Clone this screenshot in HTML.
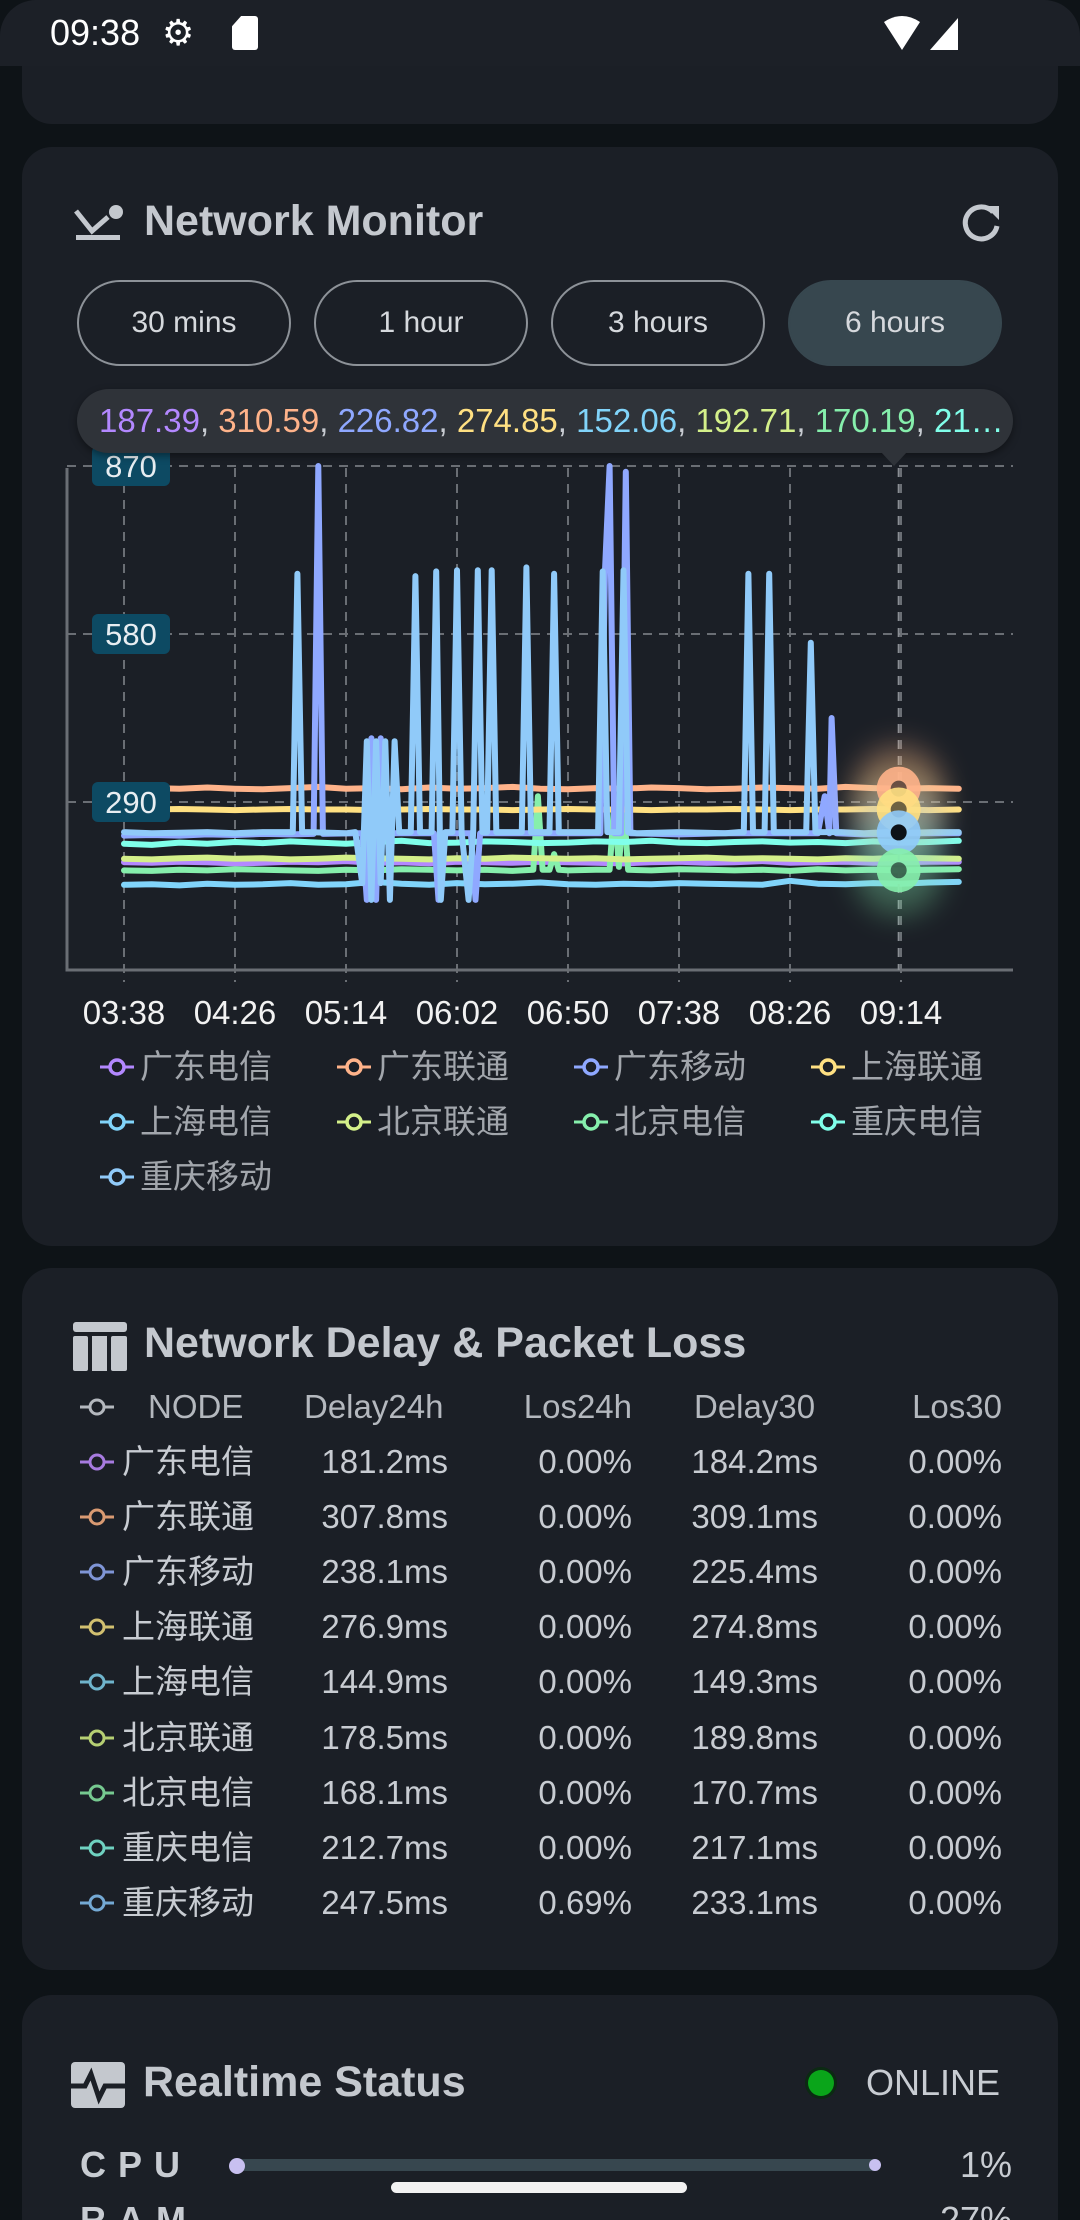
<!DOCTYPE html>
<html><head><meta charset="utf-8"><style>
html,body{margin:0;padding:0}
html{height:2220px;overflow:hidden}
body{width:1080px;height:2220px;background:#0e1317;position:relative;overflow:hidden;font-family:"Liberation Sans","Noto Sans CJK SC",sans-serif;color:#c8ccd2}
.abs{position:absolute}
.card{position:absolute;left:22px;width:1036px;background:#1b1f26;border-radius:30px}
.btn{position:absolute;top:280px;width:214px;height:86px;border:2.5px solid #8d9298;border-radius:44px;box-sizing:border-box;font-size:30px;color:#d6d9dd;display:flex;align-items:center;justify-content:center}
.btn.active{background:#37474f;border-color:#37474f}
.title{font-size:43px;font-weight:bold;color:#c4c8ce}
.row{position:absolute;left:0;width:1080px;height:50px;font-size:33px;color:#c8ccd2}
.row span{position:absolute;top:0;line-height:50px;white-space:nowrap}
.r{text-align:right}
</style></head><body>
<div class="card" style="top:66px;height:58px;border-radius:0 0 30px 30px"></div>
<div class="abs" style="left:0;top:0;width:1080px;height:66px;background:#1c2027;border-radius:36px 36px 0 0"></div>
<div class="abs" style="left:50px;top:13px;font-size:36px;line-height:40px;color:#fff">09:38</div>
<div class="abs" style="left:162px;top:13px;font-size:36px;line-height:40px;color:#fff">⚙</div>
<div class="abs" style="left:232px;top:16px;width:26px;height:34px;background:#fff;border-radius:3px;clip-path:polygon(35% 0,100% 0,100% 100%,0 100%,0 30%)"></div>
<svg class="abs" style="left:880px;top:14px" width="80" height="40"><path d="M4 8 Q22 -4 40 8 L22 36 Z" fill="#fff"/><path d="M78 4 L78 36 L50 36 Z" fill="#fff"/></svg>

<div class="card" style="top:147px;height:1099px"></div>
<svg class="abs" style="left:72px;top:203px" width="56" height="40"><path d="M4 8 L20 28 L36 14" stroke="#c4c8ce" stroke-width="5" fill="none"/><circle cx="44" cy="9" r="7" fill="#c4c8ce"/><rect x="4" y="32" width="44" height="5" fill="#c4c8ce"/></svg>
<div class="abs title" style="left:144px;top:197px">Network Monitor</div>
<svg class="abs" style="left:957px;top:200px" width="48" height="48"><path d="M36 12 A16 16 0 1 0 40 26" stroke="#c4c8ce" stroke-width="5" fill="none"/><path d="M28 6 L42 6 L42 20 Z" fill="#c4c8ce"/></svg>

<div class="btn" style="left:77px">30 mins</div>
<div class="btn" style="left:314px">1 hour</div>
<div class="btn" style="left:551px">3 hours</div>
<div class="btn active" style="left:788px">6 hours</div>

<svg id="chart" class="abs" style="left:0;top:0" width="1080" height="1260"></svg>

<div class="abs" style="left:77px;top:389px;width:936px;height:64px;background:#2f3339;border-radius:32px;box-shadow:0 3px 8px rgba(0,0,0,.4)"></div>
<div class="abs" style="left:99px;top:402px;font-size:33px;line-height:38px;white-space:nowrap;color:#c8ccd2"><span style="color:#b388ff">187.39</span>, <span style="color:#ffb38a">310.59</span>, <span style="color:#8fa8ff">226.82</span>, <span style="color:#ffe082">274.85</span>, <span style="color:#81d4fa">152.06</span>, <span style="color:#d4f08a">192.71</span>, <span style="color:#86efac">170.19</span>, <span style="color:#80ffea">21…</span></div>
<div class="abs" style="left:881px;top:452px;width:0;height:0;border-left:13px solid transparent;border-right:13px solid transparent;border-top:14px solid #2f3339"></div>

<div id="legend"></div>

<div class="card" style="top:1268px;height:702px"></div>
<svg class="abs" style="left:73px;top:1322px" width="54" height="50"><rect x="0" y="0" width="54" height="10" rx="3" fill="#c4c8ce"/><rect x="0" y="14" width="15" height="35" rx="2" fill="#c4c8ce"/><rect x="19" y="14" width="15" height="35" fill="#c4c8ce"/><rect x="38" y="14" width="16" height="35" rx="2" fill="#c4c8ce"/></svg>
<div class="abs title" style="left:144px;top:1319px">Network Delay &amp; Packet Loss</div>
<div id="table"></div>

<div class="card" style="top:1995px;height:225px;border-radius:30px 30px 0 0"></div>
<svg class="abs" style="left:71px;top:2062px" width="56" height="46"><rect x="0" y="0" width="54" height="46" rx="4" fill="#c4c8ce"/><path d="M0 24 L14 24 L20 12 L28 36 L34 24 L54 24" stroke="#1b1f26" stroke-width="5" fill="none"/></svg>
<div class="abs title" style="left:143px;top:2058px">Realtime Status</div>
<div class="abs" style="left:808px;top:2070px;width:26px;height:26px;border-radius:50%;background:#0aa51a;box-shadow:0 0 0 3px #0b2a12"></div>
<div class="abs" style="left:866px;top:2062px;font-size:36px;color:#c8ccd2">ONLINE</div>
<div class="abs" style="left:80px;top:2144px;font-size:36px;font-weight:bold;letter-spacing:12px;color:#c8ccd2">CPU</div>
<div class="abs" style="left:236px;top:2159px;width:642px;height:12px;border-radius:6px;background:#37474f"></div>
<div class="abs" style="left:229px;top:2158px;width:16px;height:16px;border-radius:50%;background:#c8c0f0"></div>
<div class="abs" style="left:869px;top:2159px;width:12px;height:12px;border-radius:50%;background:#c8c0f0"></div>
<div class="abs" style="left:900px;width:112px;text-align:right;top:2144px;font-size:36px;color:#c8ccd2">1%</div>
<div class="abs" style="left:80px;top:2200px;height:20px;overflow:hidden;font-size:36px;line-height:40px;font-weight:bold;letter-spacing:12px;color:#c8ccd2">RAM</div>
<div class="abs" style="left:900px;width:112px;height:20px;overflow:hidden;text-align:right;top:2200px;font-size:36px;line-height:40px;color:#c8ccd2">27%</div>
<div class="abs" style="left:391px;top:2182px;width:296px;height:11px;border-radius:6px;background:#f2f2f2"></div>

<script>
const seriesNames=["广东电信","广东联通","广东移动","上海联通","上海电信","北京联通","北京电信","重庆电信","重庆移动"];
const seriesColors=["#b388ff","#ffb38a","#8fa8ff","#ffe082","#81d4fa","#d4f08a","#86efac","#80ffea","#90caf9"];
const tickLabels=["03:38","04:26","05:14","06:02","06:50","07:38","08:26","09:14"];
const tickMinutes=[0,48,96,144,192,240,288,336];
const yTicks=[290,580,870];
const flatTimes=[0,12,24,36,48,60,72,84,96,108,120,132,144,156,168,180,192,204,216,228,240,252,264,276,288,300,312,324,336,348,361];
const gdDianxin=[186,185,187,186,184,185,187,186,188,185,186,184,187,186,185,187,186,185,184,186,187,185,186,188,185,186,187,185,186,187,187];
const gdLiantong=[312,314,313,315,313,312,314,316,313,314,312,315,313,314,316,313,312,314,313,315,314,312,313,315,314,313,316,314,313,314,313];
const shLiantong=[277,277,278,277,276,277,278,277,277,276,277,278,277,277,276,277,278,277,277,276,277,277,278,277,276,277,277,278,277,276,277];
const shDianxin=[147,148,146,149,147,148,150,147,148,152,149,147,150,148,149,151,148,147,149,148,150,149,148,147,154,149,148,150,149,151,152];
const bjLiantong=[192,191,193,194,192,193,191,192,194,193,192,191,193,192,194,193,192,193,191,192,193,194,192,193,192,191,193,192,194,193,192];
const cqDianxin=[218,216,220,218,221,219,222,220,218,221,223,219,220,222,221,219,220,222,221,223,220,219,221,222,220,221,219,222,220,221,223];
const gdYidongTimes=[0,12,24,36,48,60,72,82,84,86,100,103,105,107,109,111,113,120,134,136,138,150,152,154,170,190,206,208,210,212,215,217,219,240,260,290,300,303,305,306,308,320,340,361];
const gdYidong=[232,233,232,234,233,235,234,235,870,235,236,236,121,400,121,400,236,236,236,121,236,236,121,236,236,236,236,690,870,236,236,860,236,234,236,236,236,300,236,435,236,234,236,236];
const bjDianxinTimes=[0,12,24,36,48,60,72,84,96,108,120,132,144,156,168,177,179,181,184,186,188,192,204,210,212,214,216,218,228,240,252,264,276,288,300,312,324,336,348,361];
const bjDianxin=[172,171,173,172,174,173,172,171,173,172,174,173,172,173,171,173,300,173,173,200,173,172,173,173,290,178,292,173,172,174,173,172,173,171,174,172,173,172,173,174];
const cqYidongTimes=[0,12,24,36,48,60,70,73,75,77,80,96,100,103,105,107,109,111,113,115,117,119,122,124,126,128,131,133,135,137,139,142,144,146,149,151,153,155,157,159,161,164,170,172,174,176,180,184,186,188,195,205,207,209,212,214,216,218,222,240,260,266,268,270,272,275,277,279,281,285,295,297,299,302,310,320,330,340,350,361];
const cqYidong=[238,236,237,238,236,238,238,238,684,238,238,236,238,150,395,121,395,150,395,121,395,238,238,238,680,238,238,238,688,121,238,238,690,238,121,238,690,238,238,690,238,238,238,238,695,238,238,238,684,238,238,238,688,238,238,238,690,238,236,238,236,238,238,684,238,238,238,684,238,238,238,565,238,238,238,236,238,237,238,238];
const hoverMinute=335;

const NS="http://www.w3.org/2000/svg";
const svg=document.getElementById('chart');
const X0=124,PXM=111/48,Y0=970,PXV=336/580;
const plotL=67,plotR=1013,plotT=468;
function xS(m){return X0+m*PXM}
function yS(v){return Y0-v*PXV}
function mk(tag,attrs){const e=document.createElementNS(NS,tag);for(const k in attrs)e.setAttribute(k,attrs[k]);svg.appendChild(e);return e}

const defs=mk('defs',{});
defs.innerHTML='<clipPath id="pc"><rect x="67" y="440" width="946" height="530"/></clipPath><filter id="blur" x="-100%" y="-100%" width="300%" height="300%"><feGaussianBlur stdDeviation="14"/></filter>';

yTicks.forEach(function(v){
  const g=mk('line',{x1:plotL,x2:plotR,y1:yS(v),y2:yS(v),stroke:'#6a6e74','stroke-width':2,'stroke-dasharray':'9 7'});
  
  
});
tickMinutes.forEach(function(m){
  const g=mk('line',{x1:xS(m),x2:xS(m),y1:plotT,y2:Y0+12,stroke:'#6a6e74','stroke-width':2,'stroke-dasharray':'9 7'});
  
  
});
const ax=mk('path',{d:'M'+plotL+' '+plotT+' L'+plotL+' '+Y0+' L'+plotR+' '+Y0,stroke:'#6a6e74','stroke-width':3,fill:'none'});



const seriesTimes=[flatTimes,flatTimes,gdYidongTimes,flatTimes,flatTimes,flatTimes,bjDianxinTimes,flatTimes,cqYidongTimes];
const seriesValues=[gdDianxin,gdLiantong,gdYidong,shLiantong,shDianxin,bjLiantong,bjDianxin,cqDianxin,cqYidong];
const drawOrder=[4,0,6,5,7,3,1,2,8];
const lineGroup=mk('g',{'clip-path':'url(#pc)'});
drawOrder.forEach(function(i){
  const t=seriesTimes[i],v=seriesValues[i];
  let d='';
  for(let k=0;k<t.length;k++){d+=(k?'L':'M')+xS(t[k]).toFixed(1)+' '+yS(v[k]).toFixed(1)}
  const p=document.createElementNS(NS,'path');
  p.setAttribute('d',d);p.setAttribute('stroke',seriesColors[i]);p.setAttribute('stroke-width',6);
  p.setAttribute('fill','none');p.setAttribute('stroke-linejoin','round');p.setAttribute('stroke-linecap','round');
  
  
  lineGroup.appendChild(p);
});

function valAt(i,m){const t=seriesTimes[i],v=seriesValues[i];for(let k=1;k<t.length;k++){if(t[k]>=m){const f=(m-t[k-1])/(t[k]-t[k-1]);return v[k-1]+f*(v[k]-v[k-1])}}return v[v.length-1]}
const hx=xS(hoverMinute);
mk('line',{x1:hx,x2:hx,y1:plotT,y2:Y0,stroke:'#8a8e94','stroke-width':2,'stroke-dasharray':'9 7'});
[1,3,8,6].forEach(function(i){mk('circle',{cx:hx,cy:yS(valAt(i,hoverMinute)),r:46,fill:seriesColors[i],opacity:0.3,filter:'url(#blur)'})});
[1,3,8,6].forEach(function(i){
  const c=mk('circle',{cx:hx,cy:yS(valAt(i,hoverMinute)),r:22,fill:seriesColors[i],opacity:0.9});
  
  
  mk('circle',{cx:hx,cy:yS(valAt(i,hoverMinute)),r:8,fill:'#0d1117',opacity:i===8?1:0.6});
});

yTicks.forEach(function(v){
  const b=mk('rect',{x:92,y:yS(v)-20,width:78,height:40,rx:6,fill:'#0d4a63'});
  
  
  const t=mk('text',{x:131,y:yS(v)+11,'text-anchor':'middle','font-size':31,fill:'#e8eef2','font-family':'Liberation Sans, sans-serif'});
  t.textContent=v;
  
  
});
tickMinutes.forEach(function(m,i){
  const t=mk('text',{x:xS(m),y:1024,'text-anchor':'middle','font-size':33,fill:'#f2f2f2','font-family':'Liberation Sans, sans-serif'});
  t.textContent=tickLabels[i];
  
  
});

const leg=document.getElementById('legend');
seriesNames.forEach(function(n,i){
  const col=i%4,row=Math.floor(i/4);
  const d=document.createElement('div');
  d.className='abs';
  d.style.cssText='left:'+(100+col*237)+'px;top:'+(1046+row*55)+'px;height:42px;white-space:nowrap;font-size:33px;color:#a2a6ac;line-height:42px';
  d.innerHTML='<svg width="36" height="42" style="vertical-align:top"><line x1="0" y1="21" x2="34" y2="21" stroke="'+seriesColors[i]+'" stroke-width="3"/><circle cx="17" cy="21" r="7" fill="#1b1f26" stroke="'+seriesColors[i]+'" stroke-width="3.5"/></svg><span style="margin-left:4px">'+n+'</span>';
  
  
  leg.appendChild(d);
});

const delay24=["181.2ms","307.8ms","238.1ms","276.9ms","144.9ms","178.5ms","168.1ms","212.7ms","247.5ms"];
const loss24=["0.00%","0.00%","0.00%","0.00%","0.00%","0.00%","0.00%","0.00%","0.69%"];
const delay30=["184.2ms","309.1ms","225.4ms","274.8ms","149.3ms","189.8ms","170.7ms","217.1ms","233.1ms"];
const loss30=["0.00%","0.00%","0.00%","0.00%","0.00%","0.00%","0.00%","0.00%","0.00%"];
const tableColors=["#a77be0","#d99a72","#7f95d6","#d2c070","#6fb4cc","#b6cf73","#76c990","#6fd1c0","#74a9d4"];
const tb=document.getElementById('table');
function marker(c){return '<svg width="36" height="50" style="position:absolute;left:80px;top:0"><line x1="0" y1="25" x2="34" y2="25" stroke="'+c+'" stroke-width="3"/><circle cx="17" cy="25" r="7" fill="#1b1f26" stroke="'+c+'" stroke-width="3"/></svg>'}
const hdr=document.createElement('div');
hdr.className='row';hdr.style.top='1382px';hdr.style.color='#b4b8be';
hdr.innerHTML=marker('#b4b8be')+'<span style="left:148px">NODE</span><span style="left:304px">Delay24h</span><span class="r" style="left:460px;width:172px">Los24h</span><span style="left:694px">Delay30</span><span class="r" style="left:830px;width:172px">Los30</span>';


tb.appendChild(hdr);
seriesNames.forEach(function(n,i){
  const r=document.createElement('div');
  r.className='row';r.style.top=(1437+i*55.1)+'px';
  r.innerHTML=marker(tableColors[i])+'<span style="left:122px">'+n+'</span><span class="r" style="left:280px;width:168px">'+delay24[i]+'</span><span class="r" style="left:460px;width:172px">'+loss24[i]+'</span><span class="r" style="left:640px;width:178px">'+delay30[i]+'</span><span class="r" style="left:830px;width:172px">'+loss30[i]+'</span>';
  
  
  tb.appendChild(r);
});
</script>
</body></html>
